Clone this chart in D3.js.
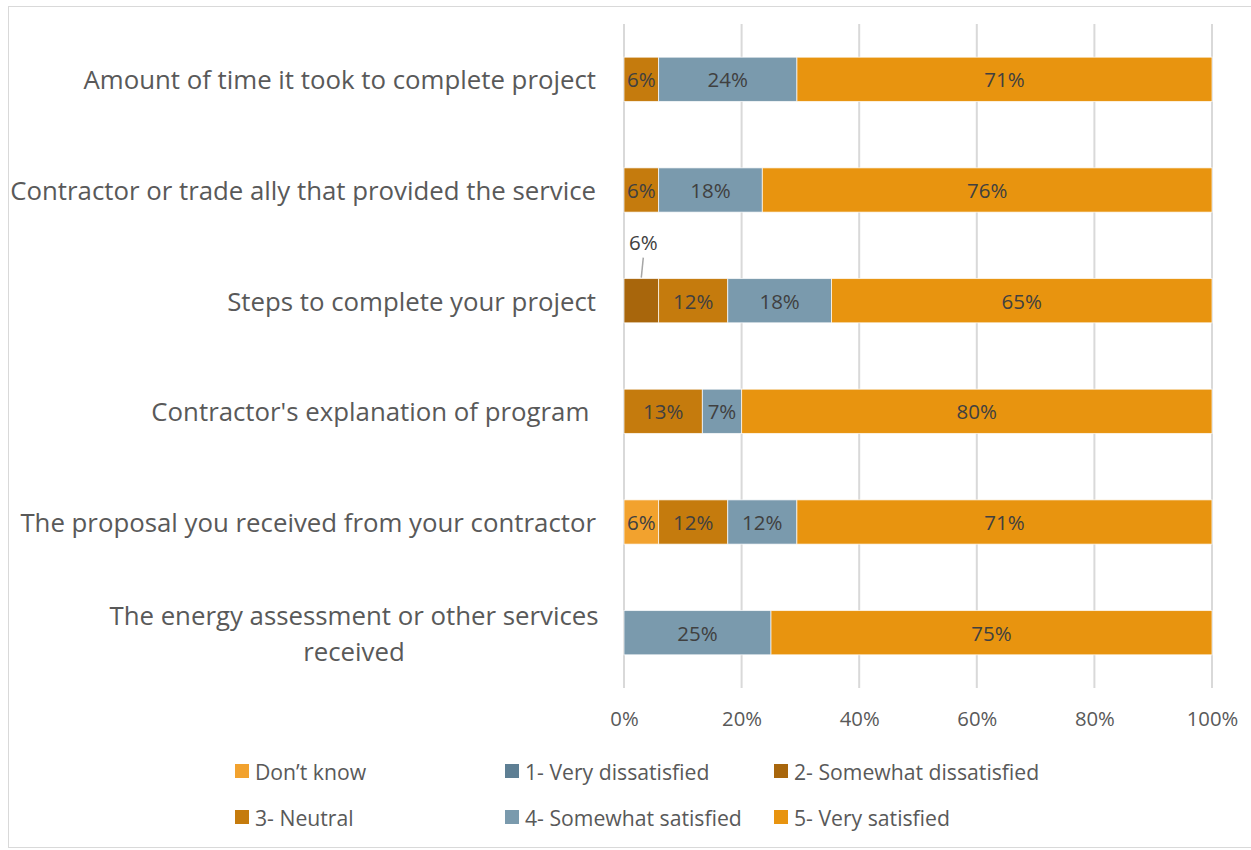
<!DOCTYPE html>
<html>
<head>
<meta charset="utf-8">
<script src="https://cdn.jsdelivr.net/npm/d3@7"></script>
<style>
  body { margin: 0; background: #fff; }
  svg text { font-family: "Open Sans", "Noto Sans", sans-serif; }
</style>
</head>
<body>
<div id="container"></div>
<script>
const WIDTH = 1251;
const HEIGHT = 850;

// categorias (de arriba hacia abajo)
const categories = [
  'Amount of time it took to complete project',
  'Contractor or trade ally that provided the service',
  'Steps to complete your project',
  "Contractor's explanation of program ",
  'The proposal you received from your contractor',
  'The energy assessment or other services received'
];

const seriesNames = [
  'Don\u2019t know',
  '1- Very dissatisfied',
  '2- Somewhat dissatisfied',
  '3- Neutral',
  '4- Somewhat satisfied',
  '5- Very satisfied'
];

// porcentajes por serie, mismo orden que categories
const dontKnow       = [0, 0, 0, 0, 5.88, 0];
const veryDissat     = [0, 0, 0, 0, 0, 0];
const somewhatDissat = [0, 0, 5.88, 0, 0, 0];
const neutral        = [5.88, 5.88, 11.76, 13.33, 11.76, 0];
const somewhatSat    = [23.53, 17.65, 17.65, 6.67, 11.76, 25];
const verySat        = [70.59, 76.47, 64.71, 80, 70.59, 75];

const ticks = [0, 20, 40, 60, 80, 100];

const colors = ['#f2a22e', '#5e7f94', '#a8660c', '#c57b0d', '#7a9aad', '#e8940f'];

const table = categories.map((c, i) => ({
  category: c,
  [seriesNames[0]]: dontKnow[i],
  [seriesNames[1]]: veryDissat[i],
  [seriesNames[2]]: somewhatDissat[i],
  [seriesNames[3]]: neutral[i],
  [seriesNames[4]]: somewhatSat[i],
  [seriesNames[5]]: verySat[i]
}));

const MARGIN = { TOP: 24, LEFT: 624, RIGHT: 39, BOTTOM: 162 };

const svg = d3.select('#container')
  .append('svg')
    .attr('width', WIDTH)
    .attr('height', HEIGHT);

// borde del grafico
svg.append('rect')
  .attr('x', 8.5).attr('y', 6.5)
  .attr('width', 1260).attr('height', 841)
  .attr('fill', 'none')
  .attr('stroke', '#d9d9d9');

const x = d3.scaleLinear()
  .domain([0, 100])
  .range([MARGIN.LEFT, WIDTH - MARGIN.RIGHT]);

const y = d3.scaleBand()
  .domain(categories)
  .range([MARGIN.TOP, HEIGHT - MARGIN.BOTTOM])
  .paddingInner(0.6)
  .paddingOuter(0.3);

// grilla
svg.append('g')
  .selectAll('line')
  .data(ticks)
  .join('line')
    .attr('x1', d => x(d)).attr('x2', d => x(d))
    .attr('y1', MARGIN.TOP).attr('y2', HEIGHT - MARGIN.BOTTOM)
    .attr('stroke', '#d9d9d9')
    .attr('stroke-width', 2);

// eje x
const xAxis = svg.append('g')
  .attr('transform', `translate(0, ${HEIGHT - MARGIN.BOTTOM})`)
  .call(d3.axisBottom(x).tickValues(ticks).tickFormat(d => d + '%').tickSize(0).tickPadding(24));
xAxis.select('.domain').remove();
xAxis.selectAll('text')
  .attr('fill', '#595959')
  .style('font-size', '20.3px')
  .style('font-family', '"Open Sans", sans-serif');

const stack = d3.stack().keys(seriesNames);
const stacked = stack(table);

const layers = svg.append('g')
  .selectAll('g')
  .data(stacked)
  .join('g')
    .attr('fill', (d, i) => colors[i]);

layers.selectAll('rect')
  .data(d => d)
  .join('rect')
    .attr('x', d => x(d[0]))
    .attr('y', d => y(d.data.category))
    .attr('width', d => x(d[1]) - x(d[0]))
    .attr('height', y.bandwidth())
    .attr('stroke', '#fff')
    .attr('stroke-opacity', d => d[1] - d[0] > 0 ? 0.7 : 0)
    .attr('stroke-width', 1);

// etiquetas de datos
stacked.forEach((layer, li) => {
  layer.forEach(d => {
    const v = d[1] - d[0];
    if (v <= 0) return;
    const cx = (x(d[0]) + x(d[1])) / 2;
    const cy = y(d.data.category) + y.bandwidth() / 2;
    const label = Math.round(v) + '%';
    if (layer.key === '2- Somewhat dissatisfied') {
      // esta etiqueta va afuera, con linea guia
      svg.append('line')
        .attr('x1', cx + 2).attr('y1', cy - 43)
        .attr('x2', cx).attr('y2', cy - 23)
        .attr('stroke', '#a6a6a6')
        .attr('stroke-width', 1.5);
      svg.append('text')
        .attr('x', cx + 2).attr('y', cy - 59)
        .attr('text-anchor', 'middle')
        .attr('dominant-baseline', 'central')
        .attr('fill', '#404040')
        .style('font-size', '20.5px')
        .text(label);
    } else {
      svg.append('text')
        .attr('x', cx).attr('y', cy)
        .attr('text-anchor', 'middle')
        .attr('dominant-baseline', 'central')
        .attr('fill', '#404040')
        .style('font-size', '20.5px')
        .text(label);
    }
  });
});

// etiquetas de categoria
const catLabels = svg.append('g');
categories.forEach(c => {
  const cy = y(c) + y.bandwidth() / 2;
  if (c.startsWith('The energy assessment')) {
    // texto en dos lineas, centrado
    const t = catLabels.append('text')
      .attr('text-anchor', 'middle')
      .attr('fill', '#595959')
      .style('font-size', '25.8px');
    t.append('tspan').attr('x', 354).attr('y', cy - 18).attr('dominant-baseline', 'central')
      .text('The energy assessment or other services');
    t.append('tspan').attr('x', 354).attr('y', cy + 18).attr('dominant-baseline', 'central')
      .text('received');
  } else {
    catLabels.append('text')
      .attr('x', 596).attr('y', cy)
      .attr('text-anchor', 'end')
      .attr('dominant-baseline', 'central')
      .attr('fill', '#595959')
      .style('font-size', '25.8px')
      .style('white-space', 'pre')
      .text(c);
  }
});

// leyenda
const legendCols = [235, 505, 774];
const legendRows = [771, 817];
const legend = svg.append('g');
seriesNames.forEach((name, i) => {
  const lx = legendCols[i % 3];
  const ly = legendRows[Math.floor(i / 3)];
  legend.append('rect')
    .attr('x', lx).attr('y', ly - 7)
    .attr('width', 14).attr('height', 14)
    .attr('fill', colors[i]);
  legend.append('text')
    .attr('x', lx + 20).attr('y', ly)
    .attr('dominant-baseline', 'central')
    .attr('fill', '#595959')
    .style('font-size', '21.2px')
    .text(name);
});
</script>
</body>
</html>
